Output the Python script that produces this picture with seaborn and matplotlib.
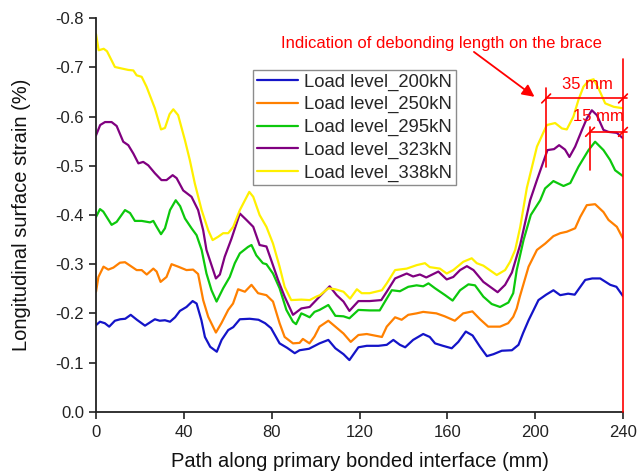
import numpy as np
import pandas as pd
import seaborn as sns
import matplotlib
matplotlib.use("Agg")
import matplotlib.pyplot as plt

# Strain profiles along the bonded interface for each load level
x_200 = [0, 1.8, 4, 6, 8.6, 11, 13.3, 15.8, 18.6, 22.3, 26.8, 29, 31.4, 33.7, 36, 38.2, 41.2, 44, 45.8, 48,
         49.6, 52, 55, 57.2, 60.2, 62.5, 65.5, 70, 74, 77, 79.7, 83.6, 87, 90.5, 92.7, 97, 101.8, 105.8, 109,
         112.7, 115.4, 119.5, 123.3, 128.6, 132.4, 135.4, 138.4, 140.8, 144.4, 149, 152, 154.4, 158, 162, 165,
         168.4, 171.5, 174.9, 178, 181, 184.8, 189.4, 192.4, 194.5, 197, 201.5, 205, 208.3, 211.4, 215, 218,
         222.8, 226, 229.6, 234.2, 237, 240]
y_200 = [-0.176, -0.183, -0.180, -0.173, -0.185, -0.188, -0.189, -0.197, -0.187, -0.175, -0.188, -0.185, -0.186,
         -0.183, -0.192, -0.205, -0.213, -0.225, -0.220, -0.186, -0.152, -0.132, -0.122, -0.146, -0.166, -0.172,
         -0.188, -0.189, -0.187, -0.180, -0.170, -0.139, -0.130, -0.119, -0.125, -0.128, -0.139, -0.146, -0.129,
         -0.117, -0.105, -0.131, -0.134, -0.134, -0.136, -0.146, -0.136, -0.131, -0.146, -0.158, -0.152, -0.139,
         -0.134, -0.129, -0.142, -0.163, -0.155, -0.132, -0.113, -0.117, -0.124, -0.125, -0.136, -0.160, -0.186,
         -0.227, -0.238, -0.247, -0.237, -0.240, -0.238, -0.268, -0.271, -0.271, -0.258, -0.254, -0.235]

x_250 = [0, 1.1, 3.4, 5.6, 7.9, 10.9, 13.2, 16.2, 18.5, 20.8, 23.1, 26.1, 27.6, 29.4, 32.1, 34.4, 37.4, 41.2,
         44.2, 46.5, 48.8, 51.1, 54.6, 57.1, 60.2, 62.4, 64.7, 67.8, 70.8, 73.8, 77.6, 80.6, 83.6, 85.9, 89.7,
         92.7, 94.2, 97.2, 99.5, 101.8, 105.8, 109, 112.7, 116, 119.5, 123.3, 130.2, 132.4, 136.2, 139.2, 142.2,
         146, 149, 155, 158.8, 163.4, 167.2, 171.4, 174.9, 178.6, 184, 187.7, 190, 191.6, 193, 197, 200.8, 204.6,
         208.3, 211.4, 214.4, 218.2, 220.5, 223.5, 227.3, 231.1, 233.4, 237.2, 240]
y_250 = [-0.244, -0.274, -0.295, -0.289, -0.293, -0.303, -0.304, -0.295, -0.288, -0.288, -0.279, -0.291, -0.285,
         -0.264, -0.274, -0.300, -0.295, -0.288, -0.289, -0.280, -0.227, -0.193, -0.161, -0.180, -0.207, -0.220,
         -0.249, -0.244, -0.258, -0.241, -0.237, -0.224, -0.180, -0.152, -0.139, -0.140, -0.148, -0.139, -0.153,
         -0.173, -0.185, -0.173, -0.159, -0.142, -0.156, -0.158, -0.152, -0.173, -0.192, -0.187, -0.197, -0.200,
         -0.203, -0.200, -0.194, -0.185, -0.200, -0.204, -0.188, -0.173, -0.173, -0.180, -0.193, -0.210, -0.234,
         -0.295, -0.329, -0.342, -0.357, -0.363, -0.366, -0.373, -0.396, -0.420, -0.422, -0.406, -0.390, -0.376,
         -0.352]

x_295 = [0, 1.8, 3.3, 7.1, 9.4, 13.2, 15.5, 17.7, 20.8, 24.6, 26.1, 27.6, 29.6, 31.4, 33.7, 36.3, 38.3, 40.5,
         43.5, 45.8, 48.1, 50.3, 52.6, 54.9, 57.9, 60.9, 63.2, 65.5, 69.2, 70.8, 73, 76, 77.6, 80.6, 83.6, 86.7,
         89.7, 91.1, 93.5, 95, 97.3, 99.5, 101.8, 105.8, 109, 112.7, 115.4, 119.5, 124.6, 129.2, 131.6, 134.7,
         138.4, 142.2, 146, 149, 151.4, 154.4, 159, 162.4, 165.8, 169.6, 172.6, 176.4, 180.2, 184, 187.8, 190,
         191.6, 194.7, 198, 202.3, 204.5, 208.3, 212.9, 216, 219.7, 224.3, 227.3, 231.1, 234.1, 236.4, 240]
y_295 = [-0.396, -0.412, -0.407, -0.380, -0.386, -0.410, -0.404, -0.388, -0.388, -0.385, -0.388, -0.376, -0.361,
         -0.373, -0.410, -0.430, -0.418, -0.393, -0.373, -0.359, -0.329, -0.281, -0.247, -0.224, -0.251, -0.274,
         -0.302, -0.322, -0.335, -0.339, -0.318, -0.302, -0.300, -0.281, -0.251, -0.207, -0.183, -0.178, -0.200,
         -0.197, -0.192, -0.203, -0.207, -0.217, -0.195, -0.194, -0.190, -0.207, -0.206, -0.206, -0.224, -0.247,
         -0.245, -0.254, -0.257, -0.255, -0.261, -0.251, -0.237, -0.226, -0.247, -0.259, -0.257, -0.234, -0.219,
         -0.213, -0.222, -0.241, -0.288, -0.349, -0.400, -0.430, -0.454, -0.469, -0.459, -0.465, -0.498, -0.532,
         -0.549, -0.532, -0.512, -0.491, -0.479]

x_323 = [0, 1.9, 4.1, 7.1, 9.4, 12.4, 14.7, 17, 19.3, 21.5, 23.8, 26.8, 29.8, 32.1, 34.9, 36.7, 39.7, 43.5,
         46.5, 48.8, 50.3, 54.6, 56.4, 58.6, 61.7, 65.5, 68.5, 71.6, 74.5, 77.6, 79.8, 82.9, 85.9, 89.7, 93.5,
         97.3, 101.8, 106.4, 109.6, 112.7, 115.4, 119.5, 124.6, 129.9, 132.4, 136.2, 141.5, 144.4, 147.5, 150.4,
         155.9, 159.7, 162.7, 165.8, 168.9, 171.9, 176.4, 182.9, 186.3, 189.4, 193.2, 197.7, 200.8, 205.6, 208.6,
         210.9, 213.6, 215.6, 218.2, 221.3, 223.5, 225.8, 228.1, 231.1, 233.4, 237.2, 240]
y_323 = [-0.562, -0.583, -0.589, -0.589, -0.581, -0.549, -0.542, -0.525, -0.505, -0.508, -0.501, -0.485, -0.471,
         -0.471, -0.481, -0.475, -0.450, -0.437, -0.410, -0.369, -0.329, -0.271, -0.279, -0.315, -0.352, -0.403,
         -0.390, -0.376, -0.339, -0.336, -0.308, -0.268, -0.234, -0.197, -0.210, -0.213, -0.234, -0.255, -0.237,
         -0.224, -0.205, -0.225, -0.225, -0.227, -0.244, -0.271, -0.281, -0.275, -0.279, -0.273, -0.285, -0.269,
         -0.274, -0.288, -0.296, -0.288, -0.264, -0.243, -0.258, -0.283, -0.340, -0.430, -0.471, -0.532, -0.534,
         -0.542, -0.533, -0.518, -0.539, -0.573, -0.596, -0.613, -0.603, -0.573, -0.569, -0.567, -0.556]

x_338 = [0, 1.2, 3.5, 5, 8.6, 11.6, 14.7, 17, 18.5, 20.8, 23, 26.8, 29.6, 31.4, 33.5, 35.2, 37.4, 40.5, 42.7,
         45, 48.1, 51.1, 53.1, 55.7, 57.9, 60.2, 62.5, 65.5, 69.8, 71.6, 74.5, 77.6, 80.6, 83.6, 85.9, 88.9,
         93.5, 97.3, 100.3, 102, 105.8, 109, 112.7, 115.7, 118.8, 121, 124.6, 130.2, 132.4, 136.2, 141.5, 146,
         149.8, 152, 156.6, 159.7, 162.7, 167.3, 171.1, 173.4, 176.4, 182.5, 186.3, 188.6, 190.9, 193.2, 196.2,
         200.8, 205.3, 209.1, 212.2, 214.4, 217.4, 219.7, 222, 224.3, 226.6, 228.9, 231.9, 235.8, 240]
y_338 = [-0.768, -0.735, -0.738, -0.733, -0.701, -0.698, -0.695, -0.694, -0.684, -0.681, -0.661, -0.617, -0.574,
         -0.577, -0.605, -0.615, -0.603, -0.552, -0.512, -0.464, -0.410, -0.369, -0.349, -0.356, -0.363, -0.363,
         -0.376, -0.410, -0.447, -0.437, -0.400, -0.376, -0.342, -0.295, -0.254, -0.227, -0.228, -0.227, -0.234,
         -0.237, -0.251, -0.249, -0.244, -0.230, -0.249, -0.241, -0.241, -0.247, -0.261, -0.288, -0.291, -0.298,
         -0.302, -0.294, -0.291, -0.281, -0.288, -0.305, -0.312, -0.302, -0.297, -0.278, -0.288, -0.305, -0.329,
         -0.376, -0.455, -0.539, -0.583, -0.587, -0.576, -0.574, -0.600, -0.634, -0.661, -0.673, -0.676, -0.657,
         -0.627, -0.620, -0.617]

labels = ["Load level_200kN", "Load level_250kN", "Load level_295kN", "Load level_323kN", "Load level_338kN"]
colors = ["#1414C8", "#FF8000", "#0CC80C", "#800080", "#FFF000"]

# Debonding lengths marked on the brace (mm) and the interface length
interface_len = 240
debond_long = 35
debond_short = 15

sns.set_theme(style="ticks")
plt.rcParams["font.family"] = ["Liberation Sans", "DejaVu Sans"]

fig = plt.figure(figsize=(6.38, 4.74), dpi=100)
ax = fig.add_axes([0.1505, 0.1314, 0.8260, 0.8300])

series = [(x_200, y_200), (x_250, y_250), (x_295, y_295), (x_323, y_323), (x_338, y_338)]
for (xs, ys), lab, col in zip(series, labels, colors):
    df = pd.DataFrame({"path": xs, "strain": ys})
    sns.lineplot(data=df, x="path", y="strain", color=col, linewidth=1.6, label=lab, ax=ax)

ax.set_xlim(0, interface_len)
ax.set_ylim(0, -0.8)
ax.set_xticks([0, 40, 80, 120, 160, 200, 240])
ytick_vals = np.round(np.arange(0, -0.81, -0.1), 1)
ax.set_yticks(ytick_vals)
ax.set_yticklabels([f"{v:.1f}" for v in ytick_vals])
ax.tick_params(axis="both", direction="out", length=5, width=1.2, labelsize=12, colors="#222222",
               labelcolor="#222222")
ax.tick_params(axis="x", pad=4.5)
for side in ["left", "bottom"]:
    ax.spines[side].set_linewidth(1.3)
    ax.spines[side].set_color("#222222")
sns.despine(ax=ax)

ax.set_xlabel("Path along primary bonded interface (mm)", fontsize=14.5, color="#111111", labelpad=9)
ax.set_ylabel("Longitudinal surface strain (%)", fontsize=14.5, color="#111111", labelpad=18)

leg = ax.legend(loc="upper left", bbox_to_anchor=(0.298, 0.869), borderaxespad=0, fontsize=13.3,
                frameon=True, fancybox=False, edgecolor="#707070", handlelength=2.25, labelspacing=0.3,
                borderpad=0.2, handletextpad=0.3)
leg.get_frame().set_linewidth(1.0)

# Red debonding-length annotation
red = "#FF0000"
lw_red = 1.2
x_long = interface_len - debond_long
x_short = interface_len - debond_short
y_long = -0.637
y_short = -0.569

ax.plot([interface_len, interface_len], [0, -0.717], color=red, lw=lw_red, clip_on=False, zorder=5)
ax.plot([x_long, interface_len + 1.8], [y_long, y_long], color=red, lw=lw_red, clip_on=False, zorder=5)
ax.plot([x_long, x_long], [-0.659, -0.498], color=red, lw=lw_red, clip_on=False, zorder=5)
ax.plot([x_short, interface_len + 1.8], [y_short, y_short], color=red, lw=lw_red, clip_on=False, zorder=5)
ax.plot([x_short, x_short], [-0.579, -0.491], color=red, lw=lw_red, clip_on=False, zorder=5)
for xm, ym in [(x_long, y_long), (interface_len, y_long), (x_short, y_short), (interface_len, y_short)]:
    ax.plot([xm - 2.0, xm + 2.0], [ym + 0.009, ym - 0.009], color=red, lw=lw_red, clip_on=False, zorder=5)

ax.text(223.9, -0.666, f"{debond_long} mm", color=red, fontsize=12, ha="center", va="center", zorder=6)
ax.text(228.6, -0.600, f"{debond_short} mm", color=red, fontsize=12, ha="center", va="center", zorder=6)

ax.text(157.1, -0.749, "Indication of debonding length on the brace", color=red, fontsize=12,
        ha="center", va="center")
ax.annotate("", xy=(200.7, -0.637), xytext=(171.1, -0.735),
            arrowprops=dict(arrowstyle="-|>", color=red, lw=1.3, mutation_scale=18))

fig.savefig("out.png", dpi=100)
